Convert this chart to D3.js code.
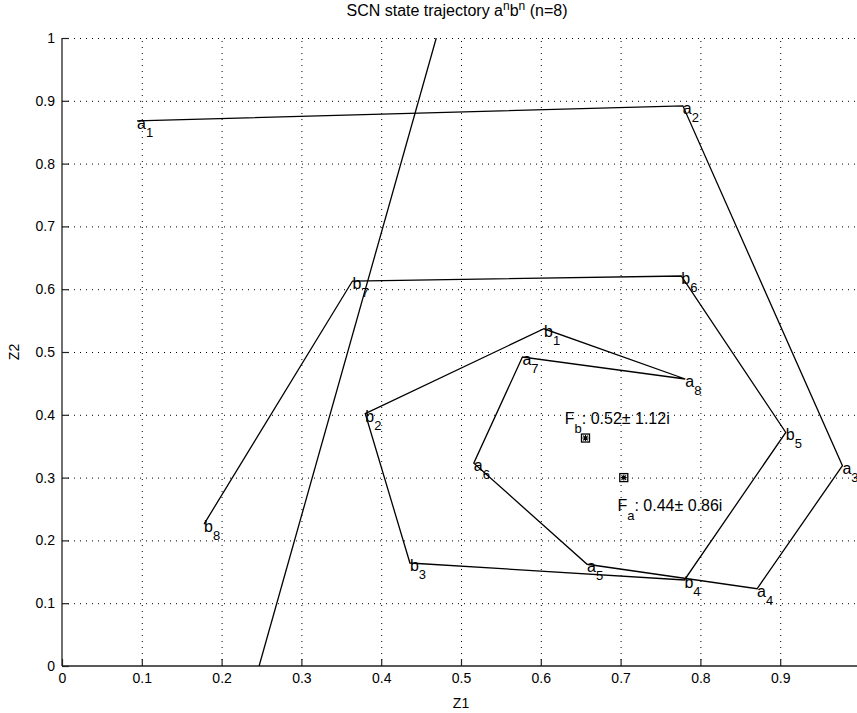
<!DOCTYPE html>
<html>
<head>
<meta charset="utf-8">
<script src="https://cdn.jsdelivr.net/npm/d3@7"></script>
<style>
body{margin:0;background:#fff;}
svg{display:block;font-family:"Liberation Sans",Arial,Helvetica,sans-serif;}
</style>
</head>
<body>
<div id="chart"></div>
<script>
// state trajectory, in the order the inputs are fed (a^8 then b^8)
var stateLetter = ["a","a","a","a","a","a","a","a","b","b","b","b","b","b","b","b"];
var stateIndex = ["1","2","3","4","5","6","7","8","1","2","3","4","5","6","7","8"];
var stateZ1 = [0.094,0.778,0.978,0.871,0.658,0.516,0.577,0.781,0.604,0.380,0.436,0.780,0.907,0.776,0.364,0.178];
var stateZ2 = [0.868,0.892,0.319,0.123,0.162,0.323,0.492,0.457,0.537,0.402,0.164,0.137,0.372,0.621,0.613,0.226];

// fixed points with eigenvalues
var fixedName = ["a","b"];
var fixedZ1 = [0.704,0.656];
var fixedZ2 = [0.300,0.363];
var fixedEig = [": 0.44\u00b1 0.86i",": 0.52\u00b1 1.12i"];
var fixedLabelZ1 = [0.696,0.630];
var fixedLabelZ2 = [0.255,0.393];

// separating line
var sepZ1 = [0.247,0.469];
var sepZ2 = [0,1];

var xTicks = [0,0.1,0.2,0.3,0.4,0.5,0.6,0.7,0.8,0.9,1];
var yTicks = [0,0.1,0.2,0.3,0.4,0.5,0.6,0.7,0.8,0.9,1];

var W=857,H=713;
var margin={left:62,top:38,right:-3,bottom:47};

var x=d3.scaleLinear().domain([0,1]).range([margin.left,W-margin.right]);
var y=d3.scaleLinear().domain([0,1]).range([H-margin.bottom,margin.top]);

var svg=d3.select("#chart").append("svg")
  .attr("width",W)
  .attr("height",H);

svg.append("clipPath").attr("id","plotclip")
  .append("rect")
  .attr("x",x(0)).attr("y",y(1))
  .attr("width",x(1)-x(0)).attr("height",y(0)-y(1));

// dotted grid
var grid=svg.append("g").attr("stroke","#000").attr("stroke-width",1).attr("stroke-dasharray","1,5");
grid.selectAll(".vg").data(xTicks.slice(1)).enter().append("line")
  .attr("x1",function(d){return x(d)+0.5;}).attr("x2",function(d){return x(d)+0.5;})
  .attr("y1",y(0)).attr("y2",y(1));
grid.selectAll(".hg").data(yTicks.slice(1)).enter().append("line")
  .attr("y1",function(d){return y(d)+0.5;}).attr("y2",function(d){return y(d)+0.5;})
  .attr("x1",x(0)).attr("x2",x(1));

// axes
var xAxis=d3.axisBottom(x).tickValues(xTicks.slice(0,10)).tickSize(-7).tickPadding(7)
  .tickFormat(function(d){return d3.format("")(+d.toFixed(1));});
var yAxis=d3.axisLeft(y).tickValues(yTicks).tickSize(-7).tickPadding(7)
  .tickFormat(function(d){return d3.format("")(+d.toFixed(1));});

var gx=svg.append("g").attr("transform","translate(0,"+y(0)+")").call(xAxis);
var gy=svg.append("g").attr("transform","translate("+x(0)+",0)").call(yAxis);
[gx,gy].forEach(function(g){
  g.select(".domain").attr("stroke","#222").attr("stroke-width",1.3).attr("d",null);
  g.selectAll(".tick line").attr("stroke","#222").attr("stroke-width",1.2);
  g.selectAll("text").attr("font-family","'Liberation Sans',Arial,sans-serif").attr("font-size",14).attr("fill","#000");
});
gx.select(".domain").attr("d","M"+x(0)+",0H"+W);
gy.select(".domain").attr("d","M0,"+y(1)+"V"+y(0));

// axis labels and title
svg.append("text").attr("x",x(0.5)).attr("y",708).attr("text-anchor","middle")
  .attr("font-size",14).text("Z1");
svg.append("text").attr("transform","translate(19,"+y(0.5)+") rotate(-90)").attr("text-anchor","middle")
  .attr("font-size",14).text("Z2");

var title=svg.append("text").attr("x",457).attr("y",16).attr("text-anchor","middle").attr("font-size",16);
title.append("tspan").text("SCN state trajectory a");
title.append("tspan").attr("dy",-6).attr("font-size",12).text("n");
title.append("tspan").attr("dy",6).text("b");
title.append("tspan").attr("dy",-6).attr("font-size",12).text("n");
title.append("tspan").attr("dy",6).text(" (n=8)");

var plot=svg.append("g").attr("clip-path","url(#plotclip)");

// separating line
plot.append("line")
  .attr("x1",x(sepZ1[0])).attr("y1",y(sepZ2[0]))
  .attr("x2",x(sepZ1[1])).attr("y2",y(sepZ2[1]))
  .attr("stroke","#000").attr("stroke-width",1.3);

// trajectory
var states=stateZ1.map(function(v,i){
  return {z1:v,z2:stateZ2[i],letter:stateLetter[i],idx:stateIndex[i]};
});
var line=d3.line().x(function(d){return x(d.z1);}).y(function(d){return y(d.z2);});
plot.append("path").datum(states)
  .attr("d",line).attr("fill","none")
  .attr("stroke","#000").attr("stroke-width",1.3).attr("stroke-linejoin","miter");

var lbl=svg.selectAll(".stlabel").data(states).enter().append("text")
  .attr("class","stlabel")
  .attr("x",function(d){return x(d.z1);})
  .attr("y",function(d){return y(d.z2)+8;})
  .attr("font-size",16);
lbl.append("tspan").text(function(d){return d.letter;});
lbl.append("tspan").attr("dy",8).attr("font-size",13).text(function(d){return d.idx;});

// fixed point markers
var fixed=fixedZ1.map(function(v,i){
  return {z1:v,z2:fixedZ2[i],name:fixedName[i],eig:fixedEig[i],lx:fixedLabelZ1[i],ly:fixedLabelZ2[i]};
});
var mk=svg.selectAll(".fp").data(fixed).enter().append("g")
  .attr("transform",function(d){return "translate("+x(d.z1)+","+y(d.z2)+")";});
mk.append("rect").attr("x",-4).attr("y",-4).attr("width",8).attr("height",8)
  .attr("fill","#fff").attr("stroke","#000").attr("stroke-width",1.3);
mk.append("path").attr("d","M-3,0H3M0,-3V3M-2.3,-2.3L2.3,2.3M-2.3,2.3L2.3,-2.3")
  .attr("stroke","#000").attr("stroke-width",1.1);

var ft=svg.selectAll(".fplabel").data(fixed).enter().append("text")
  .attr("x",function(d){return x(d.lx);})
  .attr("y",function(d){return y(d.ly)+5;})
  .attr("font-size",16);
ft.append("tspan").text("F");
ft.append("tspan").attr("dy",9).attr("font-size",13).text(function(d){return d.name;});
ft.append("tspan").attr("dy",-9).text(function(d){return d.eig;});
</script>
</body>
</html>
